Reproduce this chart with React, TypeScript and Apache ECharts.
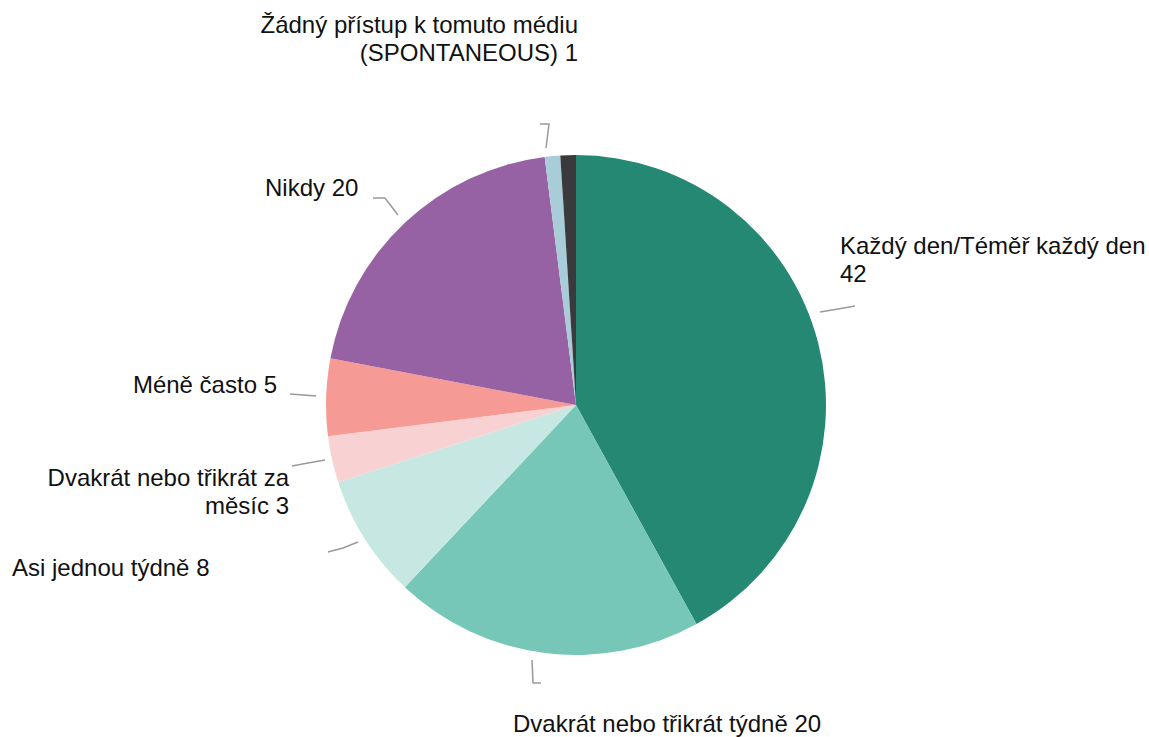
import React, { useEffect, useRef } from "react";
import * as echarts from "echarts";

const categories = [
  "Každý den/Téměř každý den",
  "Dvakrát nebo třikrát týdně",
  "Asi jednou týdně",
  "Dvakrát nebo třikrát za\nměsíc",
  "Méně často",
  "Nikdy",
  "Žádný přístup k tomuto médiu\n(SPONTANEOUS)",
  "Neví",
];
const values = [42, 20, 8, 3, 5, 20, 1, 1];
const showLabel = [true, true, true, true, true, true, true, false];
const valueSeparators = ["\n", " ", " ", " ", " ", " ", " ", " "];
const colors = [
  "#248873",
  "#76C7B8",
  "#C6E7E2",
  "#F8D2D2",
  "#F69A95",
  "#9762A3",
  "#A9CDD8",
  "#3A3A3C",
];

// label layout: text anchor + label line points (pixels)
const labelLayouts = [
  { x: 840, y: 259, align: "left", line: [[820, 312], [838, 309], [855, 306]] },
  { x: 513, y: 723, align: "left", line: [[532, 660], [533, 683], [541, 683]] },
  { x: 12, y: 567, align: "left", line: [[328, 552], [343, 548], [358, 542]] },
  { x: 289, y: 491, align: "right", line: [[325, 460], [308, 463], [292, 466]] },
  { x: 277, y: 384, align: "right", line: [[316, 396], [303, 395], [290, 394]] },
  { x: 265, y: 187, align: "left", line: [[398, 215], [385, 198], [373, 198]] },
  { x: 578, y: 38, align: "right", line: [[546, 148], [549, 124], [540, 124]] },
  { x: 560, y: 130, align: "center", line: [[560, 140], [560, 140], [560, 140]] },
];

export default function App() {
  const ref = useRef<HTMLDivElement>(null);
  useEffect(() => {
    if (!ref.current) return;
    const chart = echarts.init(ref.current, null, { renderer: "svg" });
    chart.setOption({
      animation: false,
      backgroundColor: "#ffffff",
      series: [
        {
          type: "pie",
          center: [576, 405],
          radius: [0, 250],
          startAngle: 90,
          clockwise: true,
          avoidLabelOverlap: false,
          itemStyle: { borderWidth: 0 },
          label: {
            show: true,
            formatter: (p: any) => p.name + valueSeparators[p.dataIndex] + p.value,
            fontFamily: "'Liberation Sans', Arial, sans-serif",
            fontSize: 24,
            lineHeight: 28,
            color: "#111111",
          },
          labelLine: {
            show: true,
            lineStyle: { color: "#9a9a9a", width: 1.5 },
          },
          labelLayout: (params: any) => {
            const l = labelLayouts[params.dataIndex];
            return {
              x: l.x,
              y: l.y,
              align: l.align,
              verticalAlign: "middle",
              labelLinePoints: l.line,
            };
          },
          data: categories.map((name, i) => ({
            name,
            value: values[i],
            itemStyle: { color: colors[i] },
            label: { show: showLabel[i] },
            labelLine: { show: showLabel[i] },
          })),
        },
      ],
    });
    return () => chart.dispose();
  }, []);
  return (
    <div
      ref={ref}
      style={{ position: "fixed", left: 0, top: 0, width: 1149, height: 737 }}
    />
  );
}
